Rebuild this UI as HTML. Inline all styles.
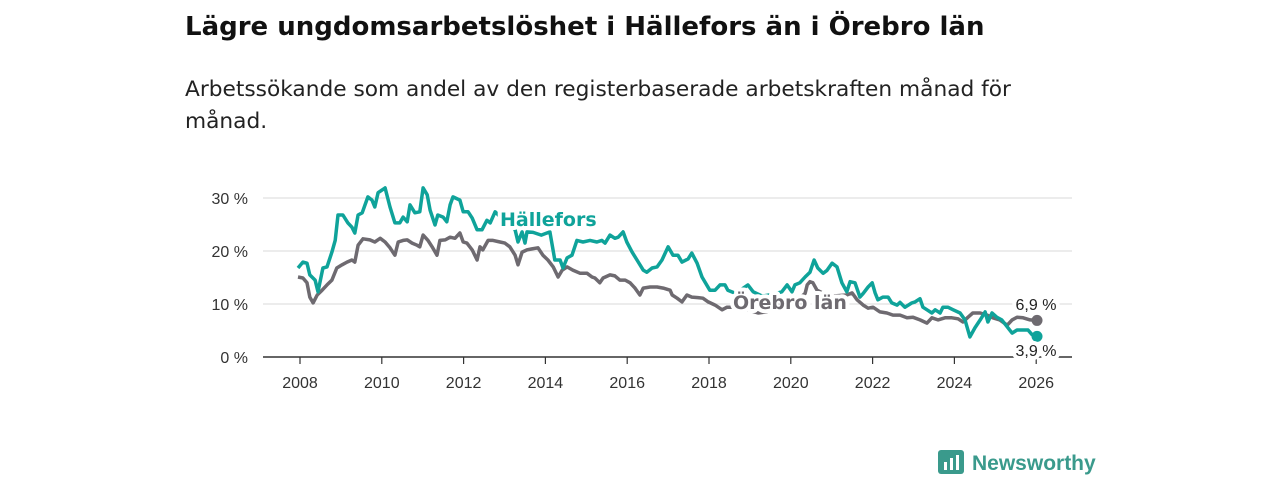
<!DOCTYPE html>
<html><head><meta charset="utf-8">
<style>
body{margin:0;width:1280px;height:480px;background:#fff;overflow:hidden;font-family:"Liberation Sans","DejaVu Sans",sans-serif;}
svg{position:absolute;left:0;top:0}
</style></head>
<body>
<svg id="c" width="1280" height="480">
<text x="185" y="35" font-size="26" font-weight="bold" fill="#111" font-family="DejaVu Sans, sans-serif">Lägre ungdomsarbetslöshet i Hällefors än i Örebro län</text>
<text x="185" y="96" font-size="21.7" fill="#222" font-family="DejaVu Sans, sans-serif">Arbetssökande som andel av den registerbaserade arbetskraften månad för</text>
<text x="185" y="128" font-size="21.7" fill="#222" font-family="DejaVu Sans, sans-serif">månad.</text>
<g id="grid"></g><g id="lines"></g><g id="labels"></g>
<g>
<rect x="938" y="450" width="26" height="24" rx="3" fill="#3a9a8c"/>
<rect x="944" y="462" width="3" height="8" fill="#fff"/><rect x="950" y="458" width="3" height="12" fill="#fff"/><rect x="956" y="455" width="3" height="15" fill="#fff"/>
<text x="972" y="470" font-size="21" font-weight="bold" fill="#3a9a8c">Newsworthy</text>
</g>
</svg>
<script>
const yTicks=[0,10,20,30];
const yTickLabels=["0 %","10 %","20 %","30 %"];
const xTicks=[2008,2010,2012,2014,2016,2018,2020,2022,2024,2026];
const hYears=[2007.95,2008.07,2008.17,2008.24,2008.37,2008.44,2008.56,2008.66,2008.78,2008.86,2008.93,2009.05,2009.17,2009.27,2009.34,2009.42,2009.52,2009.59,2009.66,2009.76,2009.83,2009.91,2010.08,2010.20,2010.32,2010.44,2010.52,2010.62,2010.69,2010.81,2010.93,2011.01,2011.11,2011.18,2011.30,2011.37,2011.50,2011.59,2011.67,2011.74,2011.91,2011.99,2012.11,2012.21,2012.33,2012.45,2012.57,2012.65,2012.77,2012.89,2013.01,2013.13,2013.26,2013.33,2013.43,2013.50,2013.55,2013.70,2013.90,2014.11,2014.23,2014.36,2014.43,2014.53,2014.65,2014.77,2014.92,2015.09,2015.26,2015.38,2015.46,2015.58,2015.70,2015.78,2015.90,2015.99,2016.12,2016.24,2016.39,2016.48,2016.61,2016.73,2016.85,2017.00,2017.12,2017.24,2017.34,2017.49,2017.58,2017.71,2017.83,2018.02,2018.15,2018.27,2018.39,2018.46,2018.65,2018.95,2019.08,2019.30,2019.55,2019.78,2019.91,2020.03,2020.10,2020.22,2020.35,2020.47,2020.57,2020.66,2020.79,2020.88,2021.01,2021.13,2021.25,2021.37,2021.45,2021.57,2021.69,2021.77,2021.89,2021.99,2022.06,2022.13,2022.25,2022.38,2022.47,2022.60,2022.67,2022.79,2022.96,2023.04,2023.16,2023.23,2023.33,2023.45,2023.53,2023.65,2023.72,2023.84,2023.97,2024.14,2024.26,2024.38,2024.50,2024.63,2024.75,2024.82,2024.92,2025.04,2025.16,2025.29,2025.41,2025.53,2025.68,2025.80,2025.90,2026.02];
const hValues=[16.8,17.9,17.7,15.5,14.5,12.3,16.8,17.0,19.8,22.0,26.8,26.8,25.3,24.5,23.4,26.8,27.2,28.7,30.2,29.6,28.3,31.0,31.9,28.3,25.3,25.3,26.4,25.5,28.7,27.2,27.4,31.9,30.6,27.7,24.9,26.8,26.4,25.5,28.7,30.2,29.6,27.4,27.4,26.2,24.0,24.0,25.8,25.3,27.4,26.5,26.0,25.0,24.0,21.7,23.6,21.5,23.6,23.5,23.0,23.6,18.3,18.3,16.8,18.7,19.2,22.0,21.7,22.0,21.7,22.0,21.5,23.0,22.4,22.6,23.6,21.7,19.8,18.3,16.4,16.0,16.8,17.0,18.3,20.8,19.2,19.2,17.9,18.5,19.6,17.7,15.1,12.6,12.6,13.6,13.6,12.6,12.0,13.6,12.3,11.5,11.8,12.3,13.6,12.3,13.6,14.0,15.1,16.0,18.3,16.8,15.8,16.3,17.7,17.0,14.0,12.3,14.2,14.0,11.3,12.0,13.2,14.0,12.1,10.8,11.3,11.3,10.2,9.8,10.3,9.4,10.2,10.4,11.0,9.4,8.9,8.3,8.9,8.3,9.4,9.4,8.9,8.3,7.0,3.8,5.5,7.0,8.5,6.6,8.3,7.5,7.0,5.7,4.5,5.1,5.1,5.1,4.2,3.9];
const oYears=[2007.95,2008.07,2008.17,2008.24,2008.32,2008.42,2008.54,2008.66,2008.78,2008.90,2009.03,2009.15,2009.27,2009.34,2009.42,2009.54,2009.71,2009.83,2009.96,2010.08,2010.20,2010.32,2010.40,2010.52,2010.62,2010.74,2010.86,2010.93,2011.01,2011.13,2011.23,2011.35,2011.42,2011.55,2011.67,2011.79,2011.91,2011.99,2012.08,2012.21,2012.33,2012.40,2012.47,2012.60,2012.72,2012.89,2013.01,2013.13,2013.26,2013.33,2013.43,2013.55,2013.67,2013.82,2013.94,2014.06,2014.19,2014.31,2014.41,2014.53,2014.67,2014.85,2015.02,2015.14,2015.21,2015.33,2015.41,2015.58,2015.70,2015.82,2015.95,2016.07,2016.19,2016.31,2016.39,2016.56,2016.73,2016.88,2017.05,2017.10,2017.22,2017.34,2017.46,2017.58,2017.73,2017.85,2017.98,2018.15,2018.32,2018.44,2018.65,2018.90,2019.20,2019.40,2019.65,2019.90,2020.20,2020.35,2020.40,2020.47,2020.54,2020.64,2020.80,2021.00,2021.37,2021.50,2021.62,2021.77,2021.89,2022.01,2022.18,2022.35,2022.50,2022.67,2022.84,2022.99,2023.16,2023.33,2023.45,2023.60,2023.77,2023.94,2024.09,2024.21,2024.33,2024.45,2024.63,2024.80,2024.94,2025.11,2025.29,2025.41,2025.53,2025.68,2025.85,2026.02];
const oValues=[15.1,14.9,14.0,11.3,10.2,11.7,12.6,13.6,14.5,16.8,17.4,17.9,18.3,17.9,21.1,22.3,22.1,21.7,22.4,21.7,20.6,19.2,21.7,22.0,22.1,21.5,21.1,20.8,23.0,22.0,20.8,19.2,22.0,22.1,22.6,22.4,23.4,21.7,21.5,20.2,18.3,20.8,20.2,22.0,22.0,21.7,21.5,20.8,19.2,17.4,19.8,20.2,20.4,20.6,19.2,18.3,17.0,15.1,16.4,17.0,16.4,15.8,15.8,15.1,14.9,14.0,14.9,15.5,15.3,14.5,14.5,14.0,13.0,11.7,13.0,13.2,13.2,13.0,12.6,11.7,11.1,10.4,11.7,11.3,11.2,11.1,10.4,9.8,8.9,9.4,9.4,9.0,8.3,8.5,9.5,10.0,11.0,12.0,13.6,14.2,14.0,12.6,12.0,11.5,11.7,12.1,10.8,9.8,9.2,9.4,8.5,8.3,7.9,7.9,7.4,7.5,7.0,6.4,7.4,7.0,7.4,7.4,7.2,6.6,7.5,8.3,8.3,7.9,7.4,7.0,6.0,7.0,7.5,7.4,7.0,6.9];
const X=yr=>300+(yr-2008)*40.9;
const Y=v=>357-v*5.3;
const NS="http://www.w3.org/2000/svg";
function mk(tag,attrs,parent,text){const e=document.createElementNS(NS,tag);for(const k in attrs)e.setAttribute(k,attrs[k]);if(text!==undefined)e.textContent=text;parent.appendChild(e);return e;}
const grid=document.getElementById('grid'),lines=document.getElementById('lines'),labels=document.getElementById('labels');
yTicks.forEach((t,i)=>{
  const l=mk('line',{x1:263,x2:1072,y1:Y(t),y2:Y(t),stroke:t===0?'#333':'#d9d9d9','stroke-width':t===0?1.5:1},grid);
  
  
  const tx=mk('text',{x:248,y:Y(t)+6,'text-anchor':'end','font-size':16,fill:'#333'},grid,yTickLabels[i]);
  
  
});
xTicks.forEach(t=>{
  const l=mk('line',{x1:X(t),x2:X(t),y1:357,y2:364,stroke:'#333','stroke-width':1.2},grid);
  
  
  const tx=mk('text',{x:X(t),y:388,'text-anchor':'middle','font-size':16,fill:'#333'},grid,String(t));
  
  
});
function path(ys,vs){return ys.map((y,i)=>(i?'L':'M')+X(y).toFixed(1)+','+Y(vs[i]).toFixed(1)).join('');}
const po=mk('path',{d:path(oYears,oValues),fill:'none',stroke:'#6e6a70','stroke-width':3.5,'stroke-linejoin':'round'},lines);


const ph=mk('path',{d:path(hYears,hValues),fill:'none',stroke:'#0fa39a','stroke-width':3.5,'stroke-linejoin':'round'},lines);


const lo=oYears.length-1,lh=hYears.length-1;
const d1=mk('circle',{cx:X(oYears[lo]),cy:Y(oValues[lo]),r:5.5,fill:'#6e6a70'},lines);


const d2=mk('circle',{cx:X(hYears[lh]),cy:Y(hValues[lh]),r:5.5,fill:'#0fa39a'},lines);


const halo={'stroke':'#fff','stroke-width':8,'paint-order':'stroke','stroke-linejoin':'round'};
function lab(x,y,txt,attrs,name){const t=mk('text',Object.assign({x:x,y:y},halo,attrs),labels,txt);}
lab(500,226,'Hällefors',{'font-size':19,'font-weight':'bold',fill:'#0fa39a','font-family':'DejaVu Sans, sans-serif'},'hallefors-label');
lab(733,309,'Örebro län',{'font-size':19,'font-weight':'bold',fill:'#6e6a70','font-family':'DejaVu Sans, sans-serif'},'orebro-label');
lab(1036,310,(oValues[lo].toFixed(1)).replace('.',',')+' %',{'font-size':16,fill:'#222','text-anchor':'middle'},'orebro-end-value');
lab(1036,356,(hValues[lh].toFixed(1)).replace('.',',')+' %',{'font-size':16,fill:'#222','text-anchor':'middle'},'hallefors-end-value');
</script>
</body></html>
